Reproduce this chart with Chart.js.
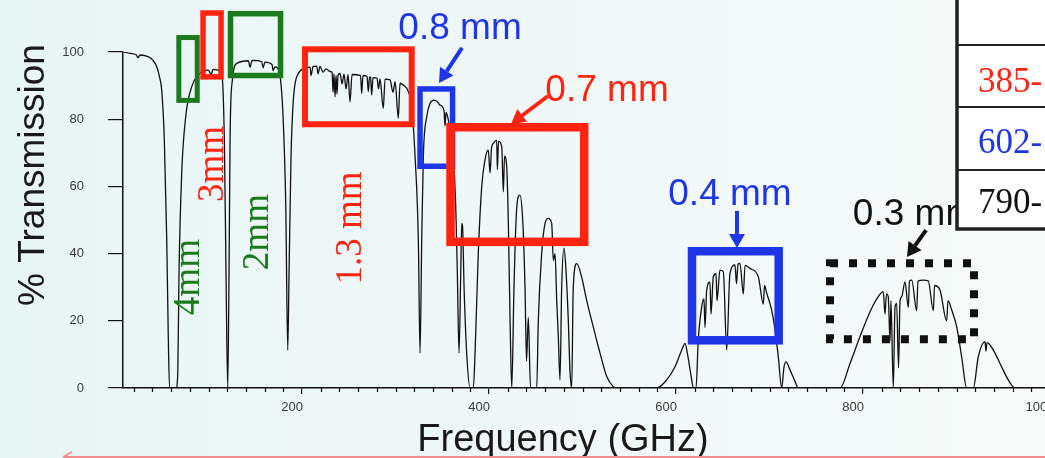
<!DOCTYPE html>
<html lang="en">
<head>
<meta charset="UTF-8">
<title>Atmospheric transmission</title>
<script src="https://cdn.jsdelivr.net/npm/chart.js"></script>
<style>
  html, body { margin: 0; padding: 0; overflow: hidden; background: #f1f9f8; }
  canvas { display: block; }
</style>
</head>
<body>
<canvas id="atmChart" width="1080" height="458"></canvas>
<script>
// transmission curve, frequency in GHz, transmission in %
const freqLow = [9.6, 16.0, 22.5, 24.6, 26.7, 35.3, 40.6, 44.6, 47.6, 49.9,
  52.7, 55.3, 57.0, 58.3, 65.2, 67.1, 68.4, 71.3, 75.6, 82.0,
  89.1, 99.8, 102.7, 104.8, 109.1, 114.1, 116.9, 118.7, 120.5, 121.9,
  123.0, 125.5, 130.2, 142.6, 144.4, 146.5, 156.9, 158.3, 160.4, 167.9,
  169.0, 171.1, 176.5, 180.0, 182.6, 184.7, 186.1, 188.2, 190.7, 196.0,
  203.2, 208.6, 209.6, 211.8, 215.7, 217.1, 219.2, 222.5, 225.7, 229.9,
  232.1, 233.2, 234.2, 235.3, 236.4, 237.4, 238.5, 240.6];
const transLow = [100, 99.6, 99.2, 98.3, 99.1, 98.6, 97.5, 95.6, 92.5, 88.7,
  73.8, 44, 14.3, 0, 0, 4.4, 34, 64, 80.8, 89.7,
  93.2, 94.6, 93.3, 94.8, 94.7, 93.6, 73.8, 34, 0, 34,
  73.8, 91.7, 96.6, 97.4, 95.5, 97.5, 97.1, 95.3, 97, 96.3,
  94.5, 95.6, 92.7, 78.8, 54, 11.3, 34, 68.8, 85.7, 93.6,
  95.1, 95.5, 93, 95.7, 95.8, 93.5, 95.7, 94, 95, 94.2,
  94, 88, 93.5, 86.7, 93, 87.5, 93, 93.6];

const freqMid = [242.8, 244.9, 247.1, 249.2, 251.3, 253.5, 262.6, 263.8, 265.2, 269.5,
  270.9, 272.2, 273.3, 274.5, 275.9, 280.2, 281.8, 283.4, 286.9, 288.8,
  294.1, 297.3, 299.5, 303.0, 304.8, 308.3, 313.7, 317.3, 320.9, 324.4,
  326.2, 328.0, 329.7, 333.4, 336.9, 341.2, 344.4, 347.6, 351.9, 352.9,
  354.0, 356.5, 359.4, 361.8, 364.4, 366.1, 367.9, 369.7, 370.8, 371.7,
  373.3, 376.1, 379.7, 383.2, 385.0, 388.5, 392.2, 395.7, 399.2, 401.1,
  402.7, 404.6, 408.2, 408.9, 410.2, 413.6, 415.3, 416.6, 418.9, 420.6,
  422.5, 424.3, 426.7, 428.9, 431.3, 433.1, 436.0, 438.5, 440.1, 442.0,
  444.4, 451.0, 452.7, 456.3, 459.9, 463.4, 467.0, 468.8, 470.6, 472.4,
  474.1, 475.9, 477.7, 480.2, 482.3, 484.8, 486.6, 488.4, 490.1, 493.8,
  499.1, 504.5, 511.5, 518.7, 525.9, 532.9, 536.6];
const transMid = [90.5, 93.4, 89, 93.3, 85.2, 93.3, 93, 87.7, 93, 92.7,
  88.2, 92.6, 92.5, 87.2, 92.4, 92.2, 89, 92, 83.2, 91.9,
  91.7, 88, 91.2, 80.3, 90.7, 90.2, 88.2, 83.7, 68.8, 44,
  10.4, 44, 68.8, 80.8, 84.7, 85.7, 85.3, 84.2, 82.5, 78,
  82, 79.8, 75, 68.8, 54, 34.2, 10.4, 34, 49, 48,
  30, 10.4, 0, 0, 10, 40, 60, 68, 70.8, 64,
  71.5, 72.8, 73.8, 65, 73.5, 71.8, 58.4, 69, 65.9, 50,
  20.2, 0, 30, 50, 57, 57.4, 50, 30, 8, 21,
  0, 0, 20, 40, 49, 50.5, 49, 38, 40, 26,
  15.3, 2.4, 30, 41.6, 35, 20, 5, 0, 30, 37,
  33, 26, 18.2, 10.4, 3.4, 0.4, 0];

const freqHigh = [579.3, 590.0, 598.9, 606.1, 609.6, 612.1, 616.8, 618.5, 621.4, 623.8,
  627.5, 629.9, 631.0, 632.8, 636.3, 637.4, 639.9, 642.8, 643.8, 647.0,
  650.6, 654.2, 657.7, 663.1, 664.7, 666.3, 668.4, 672.0, 673.8, 679.1,
  688.0, 693.4, 694.6, 697.0, 702.3, 705.9, 709.4, 713.0, 715.5, 717.6,
  721.9, 727.3, 730.8, 775.4, 786.1, 796.8, 807.5, 816.3, 821.7, 823.5,
  825.1, 827.0, 828.9, 829.9, 832.4, 834.2, 836.0, 838.0, 839.6, 841.4,
  844.9, 848.5, 849.7, 852.1, 857.4, 858.8, 864.4, 869.8, 875.2, 876.5,
  882.3, 889.5, 890.9, 894.9, 900.2, 905.5, 910.9, 918.0, 923.3, 930.5,
  931.5, 932.6, 939.4, 946.5, 955.4, 962.6, 1000];
const transHigh = [0, 2.4, 6.3, 11.3, 13.3, 10.4, 2.4, 0, 0, 14.3,
  24.2, 26.5, 18, 29.2, 31.5, 22, 33.1, 34, 26, 35.1,
  34.6, 11.3, 34.1, 36.6, 31, 36.8, 37.1, 28, 36.5, 35.6,
  33.1, 25, 30.5, 28.2, 23.2, 17.3, 9.3, 0, 6.3, 7.8,
  5.4, 1.9, 0, 0, 7.3, 15.3, 22.7, 27.2, 28.7, 22,
  28, 27.2, 14, 26, 0, 24, 25.2, 6, 26, 27.2,
  31.6, 24, 31.8, 32.1, 23, 31.8, 32.1, 31.9, 23, 30.5,
  29.2, 20, 26, 23.2, 18.2, 9.3, 0, 0, 9.3, 13.8,
  11, 13.5, 11.3, 7.3, 2.4, 0, 0];

const xTickValues = [200, 400, 600, 800, 1000];
const yTickValues = [0, 20, 40, 60, 80, 100];

const GREEN = '#1b7a1b', RED = '#ff2412', BLUE = '#1f36e6', BLACK = '#111';

// band boxes, labels and arrows, placed in data units (GHz, %)
const boxes = [
  { f: [68.2, 87.9], t: [85.6, 104.3], color: GREEN, width: 5 },
  { f: [94.1, 113.4], t: [92.6, 111.6], color: RED, width: 5.5 },
  { f: [123.5, 177.0], t: [93.0, 111.4], color: GREEN, width: 5.5 },
  { f: [203.2, 317.3], t: [78.5, 100.8], color: RED, width: 6 },
  { f: [326.2, 361.0], t: [66.0, 89.0], color: BLUE, width: 5.5 },
  { f: [358.8, 501.8], t: [43.5, 77.6], color: RED, width: 8.5 },
  { f: [617.1, 709.8], t: [14.2, 40.7], color: BLUE, width: 8.5 },
  { f: [764.7, 918.7], t: [14.5, 37.1], color: BLACK, width: 8, dash: [8, 11] }
];
const bandLabels = [
  { text: '4mm', f: 77.0, t: 33.0, color: GREEN, vertical: true },
  { text: '3mm', f: 102.7, t: 66.7, color: RED, vertical: true },
  { text: '2mm', f: 150.8, t: 46.4, color: GREEN, vertical: true },
  { text: '1.3 mm', f: 250.3, t: 47.6, color: RED, vertical: true },
  { text: '0.8 mm', f: 369.0, t: 107.7, color: BLUE },
  { text: '0.7 mm', f: 526.2, t: 89.3, color: RED },
  { text: '0.4 mm', f: 657.7, t: 58.3, color: BLUE },
  { text: '0.3 mm', f: 855.1, t: 52.4, color: BLACK }
];
const arrows = [
  { from: [371.1, 101.2], to: [346.5, 90.8], color: BLUE },
  { from: [463.1, 86.9], to: [423.5, 78.6], color: RED },
  { from: [665.2, 52.7], to: [665.2, 41.7], color: BLUE },
  { from: [867.4, 47.0], to: [847.0, 39.0], color: BLACK }
];
const tableRows = [
  { text: '275-', color: BLUE, base: 0 },
  { text: '385-', color: RED, base: 92 },
  { text: '602-', color: BLUE, base: 153 },
  { text: '790-', color: BLACK, base: 213 }
];

const freq = freqLow.concat(freqMid, freqHigh);
const trans = transLow.concat(transMid, transHigh);
const points = freq.map((f, i) => ({ x: f, y: trans[i] }));

function drawArrow(ctx, x0, y0, x1, y1, color) {
  const a = Math.atan2(y1 - y0, x1 - x0);
  const head = 14, half = 8;
  const bx = x1 - head * Math.cos(a), by = y1 - head * Math.sin(a);
  ctx.strokeStyle = color;
  ctx.lineWidth = 4;
  ctx.setLineDash([]);
  ctx.beginPath(); ctx.moveTo(x0, y0); ctx.lineTo(bx, by); ctx.stroke();
  ctx.fillStyle = color;
  ctx.beginPath();
  ctx.moveTo(x1, y1);
  ctx.lineTo(bx + half * Math.sin(a), by - half * Math.cos(a));
  ctx.lineTo(bx - half * Math.sin(a), by + half * Math.cos(a));
  ctx.closePath(); ctx.fill();
}

const background = {
  id: 'background',
  beforeDraw(chart) {
    const ctx = chart.ctx;
    const g = ctx.createLinearGradient(0, 0, chart.width, 0);
    g.addColorStop(0, '#e8f5f5');
    g.addColorStop(1, '#f7fbfa');
    ctx.save();
    ctx.fillStyle = g;
    ctx.fillRect(0, 0, chart.width, chart.height);
    ctx.restore();
  }
};

const overlay = {
  id: 'overlay',
  afterDraw(chart) {
    const ctx = chart.ctx;
    const x = chart.scales.x, y = chart.scales.y;
    ctx.save();

    // minor ticks every 20 GHz
    ctx.strokeStyle = '#111';
    ctx.lineWidth = 1.2;
    for (let v = 20; v < 1000; v += 20) {
      if (v % 200 === 0) continue;
      const px = Math.round(x.getPixelForValue(v)) + 0.5;
      ctx.beginPath(); ctx.moveTo(px, y.bottom); ctx.lineTo(px, y.bottom + 4); ctx.stroke();
    }

    // band boxes
    boxes.forEach(b => {
      const x0 = x.getPixelForValue(b.f[0]), x1 = x.getPixelForValue(b.f[1]);
      const y0 = y.getPixelForValue(b.t[1]), y1 = y.getPixelForValue(b.t[0]);
      ctx.strokeStyle = b.color;
      ctx.lineWidth = b.width;
      ctx.lineJoin = 'miter';
      ctx.setLineDash(b.dash || []);
      ctx.strokeRect(x0, y0, x1 - x0, y1 - y0);
    });
    ctx.setLineDash([]);

    // band labels
    bandLabels.forEach(l => {
      const cx = x.getPixelForValue(l.f), cy = y.getPixelForValue(l.t);
      ctx.fillStyle = l.color;
      ctx.textAlign = 'center';
      ctx.textBaseline = 'alphabetic';
      if (l.vertical) {
        ctx.font = '37px "Liberation Serif", "Times New Roman", serif';
        ctx.save();
        ctx.translate(cx, cy);
        ctx.rotate(-Math.PI / 2);
        ctx.fillText(l.text, 0, 12);
        ctx.restore();
      } else {
        ctx.font = '37px "Liberation Sans", Arial, sans-serif';
        ctx.fillText(l.text, cx, cy + 13);
      }
    });

    arrows.forEach(a => {
      drawArrow(ctx, x.getPixelForValue(a.from[0]), y.getPixelForValue(a.from[1]),
        x.getPixelForValue(a.to[0]), y.getPixelForValue(a.to[1]), a.color);
    });

    // table in the top right corner of the slide
    ctx.fillStyle = '#ffffff';
    ctx.fillRect(956, -5, 200, 234);
    ctx.strokeStyle = '#222';
    ctx.lineWidth = 2;
    [45, 107, 170].forEach(ly => {
      ctx.beginPath(); ctx.moveTo(956, ly); ctx.lineTo(1080, ly); ctx.stroke();
    });
    ctx.lineWidth = 3.5;
    ctx.beginPath(); ctx.moveTo(957, -5); ctx.lineTo(957, 229); ctx.lineTo(1080, 229); ctx.stroke();
    ctx.font = '35px "Liberation Serif", "Times New Roman", serif';
    ctx.textAlign = 'left';
    ctx.textBaseline = 'alphabetic';
    tableRows.forEach(r => {
      ctx.fillStyle = r.color;
      ctx.fillText(r.text, 978, r.base);
    });

    // axis titles
    ctx.fillStyle = '#1a1a1a';
    ctx.font = '37px "Liberation Sans", Arial, sans-serif';
    ctx.textAlign = 'center';
    ctx.save();
    ctx.translate(44, 175);
    ctx.rotate(-Math.PI / 2);
    ctx.fillText('% Transmission', 0, 0);
    ctx.restore();
    ctx.font = '38px "Liberation Sans", Arial, sans-serif';
    ctx.fillText('Frequency (GHz)', 563, 451);

    // slide underline
    ctx.strokeStyle = '#f08c8c';
    ctx.lineWidth = 2;
    ctx.beginPath(); ctx.moveTo(64, 457); ctx.lineTo(1080, 457); ctx.stroke();
    ctx.beginPath(); ctx.moveTo(72, 452); ctx.lineTo(63, 457); ctx.stroke();

    ctx.restore();
  }
};

const ctx = document.getElementById('atmChart').getContext('2d');
const chart = new Chart(ctx, {
  type: 'line',
  data: {
    datasets: [{
      data: points,
      borderColor: '#111',
      borderWidth: 1.3,
      pointRadius: 0,
      fill: false,
      cubicInterpolationMode: 'monotone'
    }]
  },
  options: {
    responsive: false,
    animation: false,
    layout: { padding: { left: 0, top: 52, right: 30, bottom: 0 } },
    plugins: { legend: { display: false }, tooltip: { enabled: false } },
    scales: {
      x: {
        type: 'linear',
        min: 8.5,
        max: 1000,
        afterFit: s => { s.height = 70; },
        afterBuildTicks: s => { s.ticks = xTickValues.map(v => ({ value: v })); },
        grid: { drawOnChartArea: false, tickLength: 6, color: '#111', lineWidth: 1.2 },
        border: { color: '#111', width: 1.5 },
        ticks: {
          color: '#3a3a3a',
          font: { family: '"Liberation Sans", Arial, sans-serif', size: 13 },
          padding: 6,
          labelOffset: -10,
          maxRotation: 0,
          autoSkip: false,
          callback: v => String(v)
        }
      },
      y: {
        min: 0,
        max: 100,
        afterFit: s => { s.width = 123; },
        afterBuildTicks: s => { s.ticks = yTickValues.map(v => ({ value: v })); },
        grid: { drawOnChartArea: false, tickLength: 15, color: '#111', lineWidth: 1.2 },
        border: { color: '#111', width: 1.5 },
        ticks: {
          color: '#3a3a3a',
          font: { family: '"Liberation Sans", Arial, sans-serif', size: 13 },
          padding: 24,
          callback: v => String(v)
        }
      }
    }
  },
  plugins: [background, overlay]
});
</script>
</body>
</html>
